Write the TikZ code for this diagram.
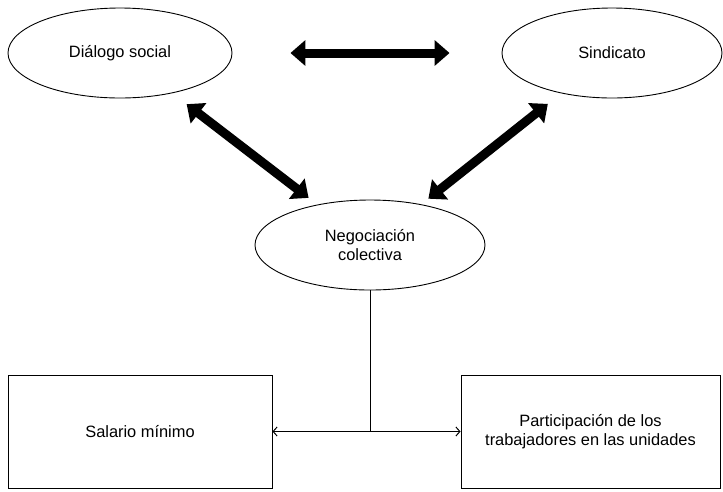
\documentclass[tikz,border=0pt]{standalone}
\usepackage{fontspec}
\setmainfont{Liberation Sans}
\usetikzlibrary{arrows.meta,shapes.geometric}
\begin{document}
\begin{tikzpicture}[x=1pt,y=-1pt,
  every node/.style={font=\fontsize{16.4}{19.5}\selectfont, align=center, inner sep=0pt},
  oval/.style={draw, ellipse, line width=0.9pt},
  boxnode/.style={draw, rectangle, line width=0.9pt},
  bigarrow/.style={line width=9pt, {Triangle[length=15pt,width=25pt]}-{Triangle[length=15pt,width=25pt]}},
  thinarrow/.style={line width=1pt, {Straight Barb[length=4pt,width=9pt]}-{Straight Barb[length=4pt,width=9pt]}}]
\useasboundingbox (0,0) rectangle (723,491);
\node[oval, minimum width=224pt, minimum height=90pt] (d) at (120,53) {Diálogo social};
\node[oval, minimum width=220pt, minimum height=90pt] (s) at (612,53) {Sindicato};
\node[oval, minimum width=230pt, minimum height=90pt] (n) at (370,245) {Negociación\\colectiva};
\node[boxnode, minimum width=264pt, minimum height=113pt] (sal) at (140,431.5) {Salario mínimo};
\node[boxnode, minimum width=259pt, minimum height=113pt] (par) at (590.5,431.5) {Participación de los\\trabajadores en las unidades};
\coordinate (j) at (370,431.5);
\draw[bigarrow, shorten <=58pt, shorten >=52pt] (d) -- (s);
\draw[bigarrow, shorten <=18pt, shorten >=11pt] (d) -- (n);
\draw[bigarrow, shorten <=17pt, shorten >=9pt] (s) -- (n);
\draw[line width=1pt] (n.south) -- (j);
\draw[thinarrow] (sal.east) -- (par.west);
\end{tikzpicture}
\end{document}
